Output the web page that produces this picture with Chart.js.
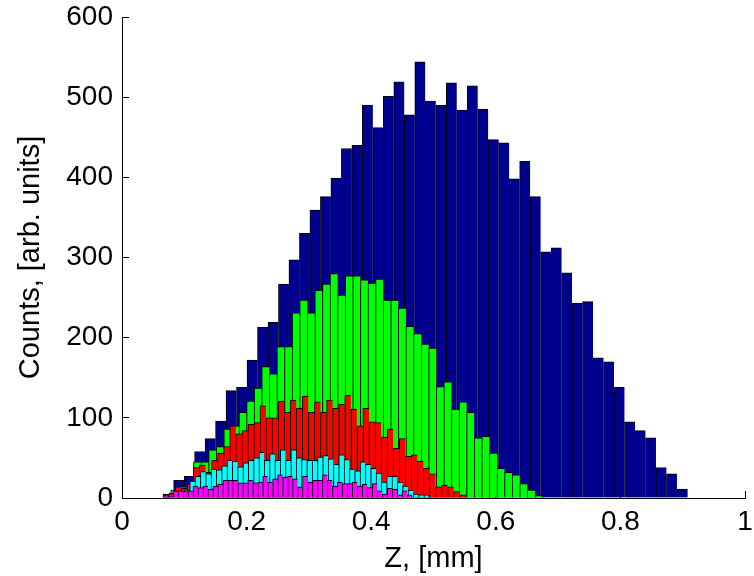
<!DOCTYPE html>
<html>
<head>
<meta charset="utf-8">
<script src="https://cdn.jsdelivr.net/npm/chart.js@4.4.0/dist/chart.umd.min.js"></script>
<style>
  html, body { margin: 0; padding: 0; background: #fff; }
</style>
</head>
<body>
<canvas id="histChart" width="754" height="576"></canvas>
<script>
// every histogram starts at the same Z and has 50 bins up to its own max Z
var zMin = 0.066;
var seriesZMax = [0.9076, 0.675, 0.5518, 0.4932, 0.4657];

var blueCounts = [5, 22, 27, 58, 74, 96, 134, 138, 172, 213, 219, 267, 297, 330, 359, 376, 399, 436, 440, 490,
    462, 501, 519, 478, 544, 495, 490, 518, 484, 514, 485, 447, 443, 398, 420, 376, 307, 312, 281, 243,
    245, 175, 170, 138, 95, 84, 75, 38, 30, 11];
var greenCounts = [4, 10, 14, 14, 45, 45, 60, 64, 86, 90, 107, 121, 137, 164, 155, 189, 189, 231, 247, 231,
    259, 267, 280, 253, 277, 277, 272, 268, 273, 247, 247, 237, 214, 205, 192, 187, 139, 145, 111, 120,
    107, 75, 77, 56, 37, 32, 29, 18, 10, 3];
var redCounts = [2, 6, 14, 12, 18, 38, 41, 32, 47, 56, 64, 90, 80, 84, 92, 94, 115, 100, 100, 121,
    107, 122, 112, 127, 107, 120, 107, 122, 112, 117, 128, 111, 90, 112, 95, 94, 76, 86, 62, 74,
    52, 54, 46, 37, 30, 14, 16, 14, 8, 4];
var cyanCounts = [1, 4, 3, 8, 10, 21, 27, 33, 30, 36, 35, 40, 47, 46, 39, 44, 47, 50, 57, 47,
    55, 47, 60, 47, 60, 50, 48, 47, 47, 51, 53, 49, 42, 54, 48, 36, 34, 45, 42, 37,
    31, 20, 27, 27, 20, 15, 10, 5, 4, 4];
var magentaCounts = [3, 2, 9, 9, 8, 9, 15, 13, 15, 11, 15, 17, 22, 22, 22, 19, 19, 22, 19, 20,
    27, 20, 24, 29, 26, 27, 24, 14, 27, 20, 22, 22, 29, 22, 15, 20, 18, 18, 20, 15,
    17, 13, 18, 9, 5, 12, 11, 4, 9, 4];

var xTicks = [0, 0.2, 0.4, 0.6, 0.8, 1];
var yTicks = [0, 100, 200, 300, 400, 500, 600];

var allCounts = [blueCounts, greenCounts, redCounts, cyanCounts, magentaCounts];
var fillColors = ['rgb(0,0,143)', 'rgb(0,255,0)', 'rgb(255,0,0)', 'rgb(0,255,255)', 'rgb(255,0,255)'];
var fontFamily = '"Liberation Sans", Arial, Helvetica, sans-serif';
var tickFont = { family: fontFamily, size: 28 };
var titleFont = { family: fontFamily, size: 29 };

// bin centres from the bin edges
function binPoints(counts, zMax) {
    var w = (zMax - zMin) / counts.length;
    return counts.map(function(c, i) {
        return { x: zMin + (i + 0.5) * w, y: c };
    });
}

// labels may overhang the plot; keep chart area set by layout padding only
function noOverhang(scale) {
    scale.paddingTop = 0;
    scale.paddingBottom = 0;
    scale.paddingLeft = 0;
    scale.paddingRight = 0;
}

var datasets = [];
var scales = {};
allCounts.forEach(function(counts, s) {
    var axisId = s === 0 ? 'x' : 'x' + s;
    var shown = s === 0;
    var last = counts.length - 1;
    datasets.push({
        data: binPoints(counts, seriesZMax[s]),
        xAxisID: axisId,
        yAxisID: 'y',
        backgroundColor: fillColors[s],
        borderColor: '#000',
        borderWidth: function(ctx) {
            return { top: 1, left: 1, right: ctx.dataIndex === last ? 1 : 0, bottom: 0 };
        },
        borderSkipped: false,
        grouped: false,
        barPercentage: 1,
        categoryPercentage: 1,
        order: 5 - s
    });
    // each histogram gets its own x scale (only the first is drawn) so bar width follows its own bins
    scales[axisId] = {
        type: 'linear',
        display: shown,
        position: 'bottom',
        min: 0,
        max: 1,
        offset: false,
        grid: { display: true, drawOnChartArea: false, drawTicks: true, tickLength: -7, color: '#000', offset: false },
        border: { display: true, color: '#000', width: 1 },
        ticks: { color: '#000', font: tickFont, padding: 14, maxRotation: 0,
            callback: function(v) { return String(Number(v.toFixed(1))); } },
        afterBuildTicks: function(scale) {
            scale.ticks = xTicks.map(function(v) { return { value: v }; });
        },
        title: { display: shown, text: 'Z, [mm]', color: '#000', font: titleFont, padding: { top: 0, bottom: 0 } },
        afterFit: function(scale) {
            scale.height = shown ? 78 : 0;
            noOverhang(scale);
        }
    };
});

scales.y = {
    type: 'linear',
    position: 'left',
    min: 0,
    max: 600,
    grid: { display: true, drawOnChartArea: false, drawTicks: true, tickLength: -7, color: '#000' },
    border: { display: true, color: '#000', width: 1 },
    ticks: { color: '#000', font: tickFont, padding: 16 },
    afterBuildTicks: function(scale) {
        scale.ticks = yTicks.map(function(v) { return { value: v }; });
    },
    title: { display: true, text: 'Counts, [arb. units]', color: '#000', font: titleFont, padding: { top: 14, bottom: 0 } },
    afterFit: function(scale) {
        scale.width = 122;
        noOverhang(scale);
    }
};

new Chart(document.getElementById('histChart'), {
    type: 'bar',
    data: { datasets: datasets },
    options: {
        responsive: false,
        animation: false,
        layout: { padding: { top: 17, right: 9, left: 0, bottom: 0 } },
        plugins: {
            legend: { display: false },
            tooltip: { enabled: false }
        },
        scales: scales
    }
});
</script>
</body>
</html>
